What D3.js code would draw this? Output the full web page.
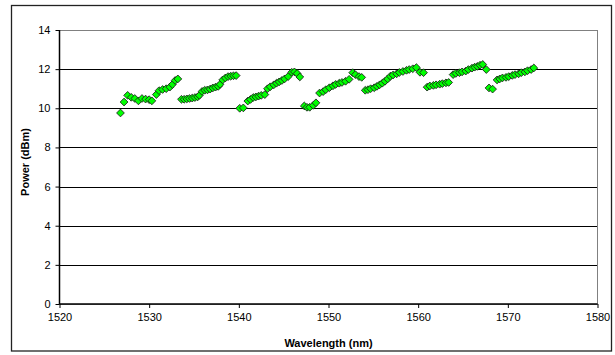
<!DOCTYPE html>
<html>
<head>
<meta charset="utf-8">
<script src="https://cdn.jsdelivr.net/npm/d3@7"></script>
<style>
  html, body { margin: 0; padding: 0; background: #fff; }
  svg { display: block; }
  text { font-family: "Liberation Sans", Arial, sans-serif; }
</style>
</head>
<body>
<svg id="chart" width="615" height="355"></svg>
<script>
// Wavelength (nm)
const wavelength = [
  1526.8, 1527.2, 1527.6, 1528.0, 1528.4, 1528.8, 1529.2, 1529.6, 1530.0, 1530.3, 1530.8, 1531.1, 1531.5, 1531.9, 1532.3, 1532.6, 1532.9, 1533.2,
  1533.6, 1533.9, 1534.2, 1534.5, 1534.8, 1535.1, 1535.4, 1535.6, 1535.9, 1536.2, 1536.5, 1536.8, 1537.1, 1537.4, 1537.7, 1537.9, 1538.2, 1538.5, 1538.8, 1539.1, 1539.4, 1539.7,
  1540.1, 1540.5, 1541.0, 1541.3, 1541.6, 1541.9, 1542.2, 1542.5, 1542.9, 1543.2, 1543.5, 1543.9, 1544.2, 1544.5, 1544.8, 1545.1, 1545.5, 1545.9, 1546.2, 1546.5, 1546.8,
  1547.3, 1547.6, 1547.9, 1548.3, 1548.6, 1549.0, 1549.4, 1549.7, 1550.1, 1550.5, 1550.8, 1551.2, 1551.5, 1551.9, 1552.3, 1552.7, 1553.0, 1553.4, 1553.7,
  1554.1, 1554.4, 1554.7, 1555.1, 1555.4, 1555.7, 1556.0, 1556.3, 1556.6, 1556.9, 1557.2, 1557.6, 1557.9, 1558.3, 1558.7, 1559.0, 1559.4, 1559.8, 1560.2, 1560.6,
  1561.0, 1561.3, 1561.7, 1562.0, 1562.4, 1562.7, 1563.1, 1563.4, 1563.9, 1564.2, 1564.6, 1564.9, 1565.3, 1565.6, 1566.0, 1566.3, 1566.6, 1566.9, 1567.2, 1567.6,
  1567.9, 1568.3, 1568.8, 1569.1, 1569.4, 1569.8, 1570.1, 1570.5, 1570.8, 1571.2, 1571.5, 1571.9, 1572.2, 1572.6, 1572.9
];
// Power (dBm)
const power = [
  9.76, 10.32, 10.66, 10.56, 10.50, 10.38, 10.50, 10.47, 10.44, 10.38, 10.70, 10.90, 10.96, 11.00, 11.08, 11.22, 11.42, 11.50,
  10.46, 10.46, 10.48, 10.50, 10.52, 10.55, 10.58, 10.66, 10.86, 10.92, 10.94, 10.98, 11.04, 11.08, 11.12, 11.22, 11.45, 11.55, 11.62, 11.64, 11.66, 11.67,
  10.00, 10.02, 10.37, 10.45, 10.55, 10.58, 10.62, 10.66, 10.70, 11.00, 11.10, 11.20, 11.28, 11.35, 11.42, 11.50, 11.62, 11.84, 11.86, 11.78, 11.60,
  10.12, 10.05, 10.05, 10.15, 10.28, 10.78, 10.85, 10.95, 11.05, 11.15, 11.22, 11.28, 11.32, 11.38, 11.48, 11.82, 11.72, 11.62, 11.58,
  10.92, 10.95, 11.00, 11.05, 11.12, 11.20, 11.28, 11.38, 11.50, 11.64, 11.70, 11.76, 11.83, 11.88, 11.94, 11.98, 12.02, 12.08, 11.84, 11.82,
  11.08, 11.14, 11.17, 11.20, 11.23, 11.26, 11.30, 11.32, 11.72, 11.78, 11.82, 11.86, 11.90, 11.98, 12.05, 12.10, 12.14, 12.20, 12.24, 11.98,
  11.04, 10.98, 11.45, 11.50, 11.55, 11.58, 11.62, 11.68, 11.72, 11.76, 11.82, 11.86, 11.92, 11.98, 12.06
];
const xTicks = [1520, 1530, 1540, 1550, 1560, 1570, 1580];
const yTicks = [0, 2, 4, 6, 8, 10, 12, 14];
const xTitle = "Wavelength (nm)";
const yTitle = "Power (dBm)";

const svg = d3.select("#chart");
const L = 59.5, R = 597.5, T = 30, B = 304;

// outer chart border
svg.append("rect")
  .attr("x", 11.5).attr("y", 5.5).attr("width", 600).attr("height", 345.5)
  .attr("fill", "#fff").attr("stroke", "#222").attr("stroke-width", 1.3);

const x = d3.scaleLinear().domain([1520, 1580]).range([L, R]);
const y = d3.scaleLinear().domain([0, 14]).range([B, T]);

// gridlines
svg.append("g").selectAll("line")
  .data(yTicks.filter(d => d > 0 && d < 14))
  .join("line")
  .attr("x1", L).attr("x2", R)
  .attr("y1", d => Math.round(y(d)) + 0.5).attr("y2", d => Math.round(y(d)) + 0.5)
  .attr("stroke", "#000").attr("stroke-width", 1);

// plot area border
svg.append("rect")
  .attr("x", L).attr("y", T + 0.5).attr("width", R - L).attr("height", B - T)
  .attr("fill", "none").attr("stroke", "#808080").attr("stroke-width", 1);

// axes
const xAxis = d3.axisBottom(x).tickValues(xTicks).tickSize(4).tickPadding(5).tickFormat(d3.format("d"));
const gx = svg.append("g").attr("transform", `translate(0,${B})`).call(xAxis);
const yAxis = d3.axisLeft(y).tickValues(yTicks).tickSize(4).tickPadding(5).tickFormat(d3.format("d"));
const gy = svg.append("g").attr("transform", `translate(${L},0)`).call(yAxis);
[gx, gy].forEach(g => {
  g.select(".domain").attr("stroke", "#000").attr("stroke-width", 1.5);
  g.selectAll(".tick line").attr("stroke", "#000");
  g.selectAll("text").attr("font-size", 11).attr("fill", "#000")
    .attr("font-family", '"Liberation Sans", Arial, sans-serif');
});
gx.select(".domain").attr("d", `M${L},0H${R}`);
gx.selectAll(".tick line").attr("y2", 4);
gy.select(".domain").attr("d", `M0,${B}V${T}`);

// points
const pts = wavelength.map((w, i) => ({ w, p: power[i] }));
const sym = d3.symbol().type(d3.symbolSquare).size(30);
svg.append("g").selectAll("path")
  .data(pts)
  .join("path")
  .attr("d", sym)
  .attr("transform", d => `translate(${x(d.w)},${y(d.p)}) rotate(45)`)
  .attr("fill", "#00ff00")
  .attr("stroke", "#1a1a1a")
  .attr("stroke-width", 0.8);

// titles
svg.append("text")
  .attr("x", (L + R) / 2).attr("y", 347)
  .attr("text-anchor", "middle")
  .attr("font-size", 11).attr("font-weight", "bold")
  .text(xTitle);
svg.append("text")
  .attr("transform", `translate(29,${(T + B) / 2 - 5}) rotate(-90)`)
  .attr("text-anchor", "middle")
  .attr("font-size", 11).attr("font-weight", "bold")
  .text(yTitle);
</script>
</body>
</html>
